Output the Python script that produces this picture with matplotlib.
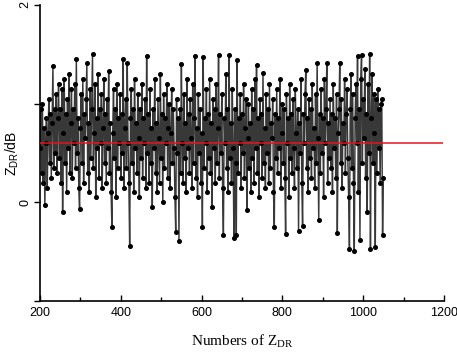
import matplotlib
matplotlib.use("Agg")
import matplotlib.pyplot as plt
from matplotlib.ticker import MultipleLocator
import numpy as np

# Z_DR samples (every 2nd sample from 200 to 1050)
x_start, x_step = 200, 2
zdr = [
    0.55, 0.95, 0.30, 1.00, 0.20, 0.75, -0.03, 0.60, 0.85, 0.15, 0.70, 1.05, 0.40, 0.90, 0.25, 0.80, 1.38, 0.35, 0.95, 0.50,
    1.10, 0.30, 0.85, 1.20, 0.45, 0.95, 0.20, 1.15, -0.10, 0.70, 1.25, 0.40, 0.90, 0.10, 1.05, 0.55, 1.30, 0.30, 0.80, 1.15,
    0.25, 0.95, 0.60, 1.20, 0.35, 1.45, 0.50, 0.85, 0.15, -0.07, 0.75, 1.10, 0.40, 1.25, 0.20, 0.90, 0.65, 1.05, 1.41, 0.30,
    0.80, 0.10, 1.15, 0.45, 0.95, 1.50, 0.35, 0.70, 1.20, 0.05, 0.85, 0.55, 1.30, 0.25, 0.95, 0.60, 1.10, 0.15, 0.75, 1.25,
    0.40, 0.90, 0.20, 1.05, 0.55, 1.33, 0.30, 0.80, 0.10, -0.25, 0.70, 1.15, 0.45, 0.95, 0.05, 1.20, 0.35, 0.85, 0.60, 1.10,
    0.25, 0.90, 0.50, 1.45, 0.15, 0.75, 1.05, 0.35, 1.41, 0.60, 0.20, -0.44, 0.85, 1.15, 0.40, 0.95, 0.10, 1.25, 0.55, 0.80,
    0.30, 1.10, 0.65, 0.05, 0.95, 0.45, 1.20, 0.25, 0.85, 0.60, 1.05, 0.15, 1.48, 0.50, 0.90, 0.20, 1.15, 0.40, 0.75, -0.05,
    0.95, 0.55, 1.25, 0.30, 0.80, 0.10, 1.05, 0.65, 0.20, 1.30, 0.45, 0.90, 0.00, 1.10, 0.35, 0.85, 0.60, 1.20, 0.25, 0.75,
    1.00, 0.15, 0.70, 1.15, 0.40, 0.95, 0.55, 0.05, -0.30, 1.05, 0.50, 0.85, -0.39, 0.95, 0.30, 1.40, 0.60, 0.20, 1.10, 0.45,
    0.80, 0.10, 1.25, 0.55, 0.90, 0.30, 1.05, 0.65, 0.15, 1.20, 0.40, 0.85, 1.48, 0.25, 0.75, 0.05, 1.10, 0.50, 0.95, 0.20,
    0.70, -0.25, 1.47, 0.35, 0.85, 0.60, 1.15, 0.10, 0.90, 0.45, 1.25, 0.30, 0.80, -0.05, 1.05, 0.55, 0.95, 0.20, 1.20, 0.40,
    0.75, 1.49, 0.25, 0.90, 0.50, 1.10, 0.15, -0.33, 0.85, 0.60, 1.30, 0.35, 0.95, 0.10, 1.49, 0.45, 0.80, 0.20, 1.15, 0.55,
    -0.36, 0.95, 0.40, -0.33, 1.44, 0.30, 0.85, 0.60, 1.10, 0.15, 0.90, 0.50, 1.20, 0.25, 0.75, 1.05, -0.08, 0.65, 1.00, 0.35,
    0.80, 0.10, 1.15, 0.45, 0.95, 0.20, 1.25, 0.55, 1.39, 0.30, 0.85, 0.05, 1.05, 0.60, 0.90, 0.25, 1.31, 0.40, 0.75, 0.15,
    1.10, 0.50, 0.95, 0.20, 1.20, 0.35, 0.80, 0.65, 1.05, 0.10, -0.25, 0.90, 0.45, 1.15, 0.30, 0.85, 0.55, 1.25, 0.15, 0.70,
    1.00, 0.40, 0.95, 0.25, -0.32, 1.10, 0.60, 0.85, 0.05, 1.20, 0.45, 0.90, 0.30, 1.05, 0.55, 0.15, 1.15, 0.70, 0.35, 0.95,
    -0.29, 0.80, 0.50, 1.25, 0.20, -0.24, 0.90, 0.60, 1.10, 1.34, 0.35, 0.85, 0.10, 1.05, 0.45, 0.95, 0.25, 1.20, 0.55, 0.75,
    0.15, 1.10, 0.40, 1.41, 0.65, -0.18, 0.90, 0.30, 1.15, 0.50, 0.85, 0.05, 1.25, 0.60, 0.95, 1.41, 0.20, 0.80, 0.45, 1.05,
    0.35, 0.90, 0.10, 1.20, 0.55, 0.85, 0.25, 1.10, -0.31, 0.70, 0.95, 1.41, 0.40, 1.05, 0.15, 0.80, 0.60, 1.25, 0.30, 0.90,
    1.15, 0.45, 0.05, -0.47, 0.95, 1.30, 0.35, 1.10, 0.20, -0.49, 0.85, 1.20, 0.60, 1.48, 0.10, 0.95, -0.38, 1.25, 1.49, 0.40,
    1.05, 0.65, 1.35, 0.25, 0.90, -0.10, 1.20, 0.50, 1.50, -0.47, 0.85, 1.30, 0.40, 1.10, 0.70, -0.45, 1.05, 0.30, 1.15, 0.55,
    0.95, 0.20, 1.00, 1.05, -0.33, 0.25,
]
mean_level = 0.6
mean_span = (200, 1198)

x_ticks = [200, 400, 600, 800, 1000, 1200]
y_ticks = [-1, 0, 1, 2]
y_tick_labels = ["", "0", "", "2"]

x = x_start + x_step * np.arange(len(zdr))

fig = plt.figure(figsize=(4.57, 3.56), dpi=100)
ax = fig.add_axes([0.0875, 0.1545, 0.884, 0.8315])

ax.plot(x, zdr, color="#383838", lw=1.05, marker="o", ms=2.6,
        mfc="black", mec="black", zorder=2)
ax.hlines(mean_level, *mean_span, color="#e8141c", lw=1.1, zorder=3)

ax.set_xlim(200, 1200)
ax.set_ylim(-1, 2)
ax.set_xticks(x_ticks)
ax.xaxis.set_minor_locator(MultipleLocator(100))
ax.set_yticks(y_ticks)
ax.set_yticklabels(y_tick_labels, rotation=90, va="center")

for lab in ax.get_xticklabels() + ax.get_yticklabels():
    lab.set_family("Liberation Sans")
    lab.set_fontsize(9)

ax.tick_params(axis="x", which="major", direction="in", length=4, width=1, pad=4)
ax.tick_params(axis="x", which="minor", direction="in", length=3, width=1)
ax.tick_params(axis="y", direction="out", length=4, width=1, pad=2)

ax.spines["top"].set_visible(False)
ax.spines["right"].set_visible(False)
ax.spines["left"].set_linewidth(1.2)
ax.spines["bottom"].set_linewidth(1.2)

ax.set_xlabel("Numbers of $\\mathregular{Z_{DR}}$", family="Liberation Serif",
              fontsize=11, labelpad=10)
ax.set_ylabel("$\\mathregular{Z_{DR}}$/dB", family="Liberation Sans", fontsize=10)
ax.yaxis.set_label_coords(-0.048, 0.5)

fig.savefig("out.png", dpi=100)
